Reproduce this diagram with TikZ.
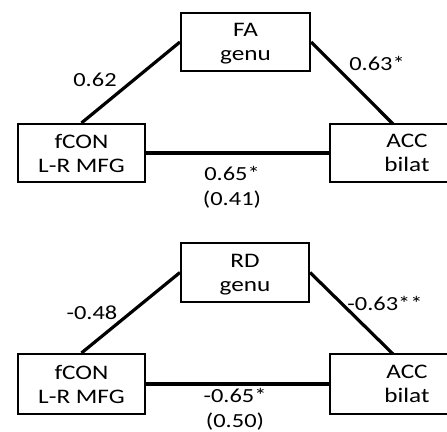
\documentclass[tikz,border=0pt]{standalone}
\usepackage{fontspec}
\setmainfont{Carlito}
\newfontfamily\widefont[FakeStretch=1.22]{Carlito}
\begin{document}
\begin{tikzpicture}[x=0.75pt,y=-0.75pt,
  box/.style={draw,line width=1.6pt,rectangle,align=center,inner sep=0pt,text depth=0pt,
    font=\widefont\fontsize{15.5}{18}\selectfont},
  link/.style={line width=2.4pt},
  lbl/.style={font=\widefont\fontsize{15}{18.5}\selectfont,inner sep=0pt,align=center}]
\useasboundingbox (0,0) rectangle (447,432);
\fill[white] (0,0) rectangle (447,432);
% top panel
\node[box,minimum height=58*0.75pt,minimum width=129*0.75pt] (fa) at (245.5,42) {FA\\genu};
\node[box,minimum height=58*0.75pt,minimum width=127*0.75pt] (fcon1) at (81.5,153) {fCON\\L-R MFG};
\node[box,minimum height=58*0.75pt,minimum width=154*0.75pt] (acc1) at (407,153) {ACC\\bilat};
\coordinate (acctop1) at (393,124);
\draw[link] (fa.west) -- (fcon1.north);
\draw[link] (fa.east) -- (acctop1);
\draw[link] (fcon1.east) -- (acc1.west);
\node[lbl] (l1) at (95,80) {0.62};
\node[lbl] (l2) at (377,63) {0.63*};
\node[lbl] (l3) at (232,187) {0.65*\\(0.41)};
% bottom panel
\node[box,minimum height=59*0.75pt,minimum width=128*0.75pt] (rd) at (245,272.5) {RD\\genu};
\node[box,minimum height=60*0.75pt,minimum width=127*0.75pt] (fcon2) at (81.5,384) {fCON\\L-R MFG};
\node[box,minimum height=60*0.75pt,minimum width=154*0.75pt] (acc2) at (407,384) {ACC\\bilat};
\coordinate (acctop2) at (393,354);
\draw[link] (rd.west) -- (fcon2.north);
\draw[link] (rd.east) -- (acctop2);
\draw[link] (fcon2.east) -- (acc2.west);
\node[lbl] (l4) at (92,313) {-0.48};
\node[lbl] (l5) at (385,303) {-0.63**};
\node[lbl] (l6) at (235,409.5) {-0.65*\\(0.50)};
\end{tikzpicture}
\end{document}
